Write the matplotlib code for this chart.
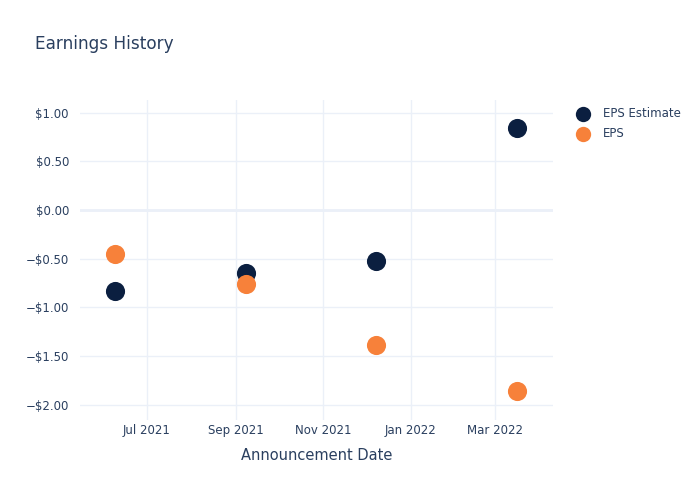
import matplotlib
matplotlib.use('Agg')
import matplotlib.pyplot as plt
import matplotlib.dates as mdates
from matplotlib.ticker import FuncFormatter
import datetime as dt

# announcement dates and values
dates = ['2021-06-09', '2021-09-08', '2021-12-08', '2022-03-16']
eps_estimate = [-0.83, -0.65, -0.52, 0.84]
eps_actual = [-0.45, -0.76, -1.39, -1.86]

text_col = '#2a3f5f'
grid_col = '#ebf0f8'
navy = '#0b1f40'
orange = '#f7813a'

x = [dt.datetime.strptime(d, '%Y-%m-%d') for d in dates]

fig = plt.figure(figsize=(7, 5), dpi=100)
ax = fig.add_axes([80 / 700, 80 / 500, 473 / 700, 320 / 500])

ax.scatter(x, eps_estimate, s=190, color=navy, label='EPS Estimate', zorder=3, linewidths=0)
ax.scatter(x, eps_actual, s=190, color=orange, label='EPS', zorder=3, linewidths=0)

ax.set_xlim(dt.datetime(2021, 5, 15, 6), dt.datetime(2022, 4, 10, 6))
ax.set_ylim(-2.155, 1.13)

ax.xaxis.set_major_locator(mdates.MonthLocator(bymonth=[1, 3, 5, 7, 9, 11]))
ax.xaxis.set_major_formatter(mdates.DateFormatter('%b %Y'))
ax.set_yticks([1.0, 0.5, 0.0, -0.5, -1.0, -1.5, -2.0])


def money(v, pos):
    s = '$%.2f' % abs(v)
    return ('\u2212' + s) if v < 0 else s


ax.yaxis.set_major_formatter(FuncFormatter(money))

ax.grid(True, color=grid_col, linewidth=1, zorder=0)
ax.axhline(0, color=grid_col, linewidth=2, zorder=1)
for sp in ax.spines.values():
    sp.set_visible(False)
ax.tick_params(length=0, colors=text_col, labelsize=8.5)
ax.tick_params(axis='x', pad=3)
ax.tick_params(axis='y', pad=8)

ax.set_xlabel('Announcement Date', color=text_col, fontsize=10.5, labelpad=8)
fig.text(35 / 700, 1 - 44 / 500, 'Earnings History', color=text_col, fontsize=12.2, va='center')

leg = ax.legend(loc='upper left', bbox_to_anchor=(1.016, 1.01), frameon=False,
                fontsize=8.5, labelcolor=text_col, handletextpad=0.7,
                labelspacing=0.55, markerscale=0.8)

fig.savefig('out.png', dpi=100)
